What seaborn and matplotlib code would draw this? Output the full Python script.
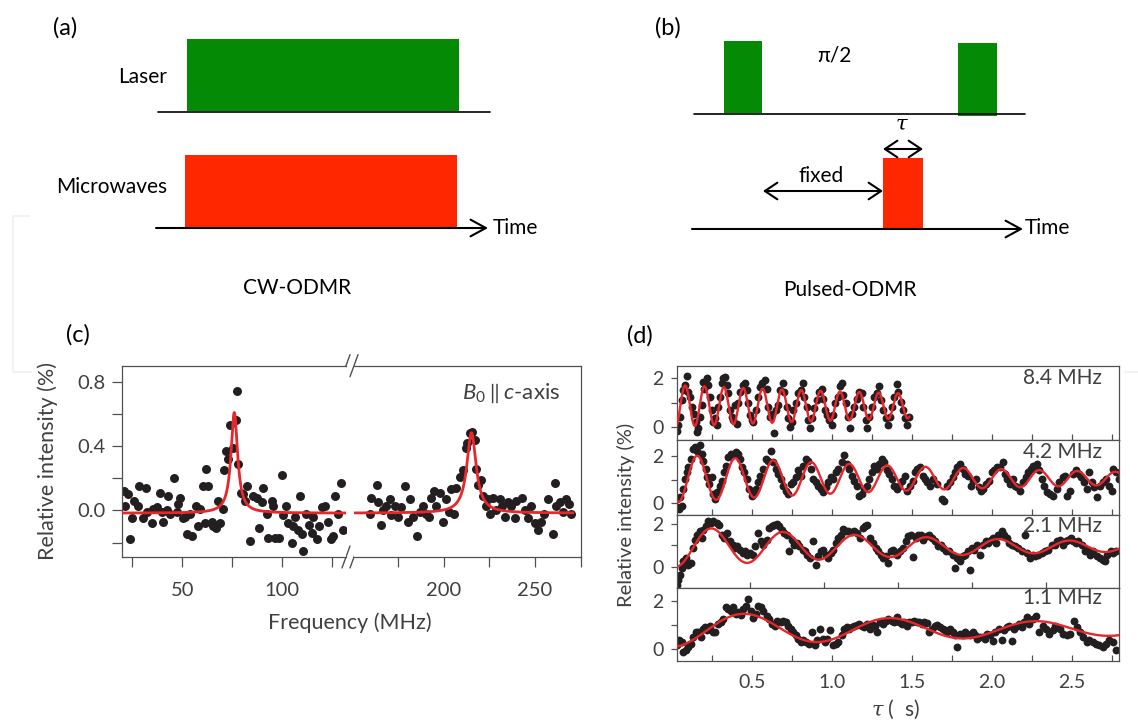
import numpy as np
import matplotlib
matplotlib.use("Agg")
import matplotlib.pyplot as plt
import seaborn as sns
from matplotlib.patches import Rectangle
from matplotlib.ticker import FixedLocator, FixedFormatter

# ------------------------------------------------------------------ data
# (c) CW-ODMR spectrum, B0 || c-axis : (frequency MHz, relative intensity %)
ODMR_LOW = [(20.8, 0.12), (21.3, 0.03), (23.0, 0.10), (23.8, -0.18), (24.7, -0.05), (25.8, 0.06),
            (28.0, 0.03), (28.5, 0.15), (30.5, -0.05), (31.8, 0.14), (32.2, -0.01), (34.7, -0.08),
            (35.5, 0.01), (37.2, 0.02), (38.8, 0.11), (39.7, -0.01), (40.5, -0.07), (42.2, 0.00),
            (43.0, 0.09), (43.8, -0.02), (46.0, 0.20), (47.2, -0.01), (48.0, 0.04), (48.8, 0.08),
            (50.2, -0.05), (51.3, -0.04), (52.2, -0.15), (53.8, -0.02), (54.7, -0.16), (56.8, 0.03),
            (58.0, -0.10), (58.8, 0.01), (60.2, 0.15), (61.3, -0.08), (61.8, 0.26), (63.0, 0.15),
            (64.7, -0.07), (65.5, -0.10), (66.8, -0.11), (68.0, 0.06), (68.8, -0.08), (70.2, 0.01),
            (71.0, 0.25), (71.8, 0.37), (73.0, 0.32), (73.8, 0.53), (75.5, 0.39), (76.8, 0.56),
            (77.2, 0.74), (78.0, 0.29), (79.2, 0.11), (80.5, 0.10), (81.3, 0.06), (82.2, 0.15),
            (83.8, -0.19), (85.2, 0.09), (87.2, 0.08), (88.5, -0.11), (89.7, 0.05), (90.2, 0.14),
            (92.2, -0.02), (93.0, -0.17), (94.7, 0.06), (95.2, 0.03), (96.3, -0.17), (98.5, -0.17),
            (99.7, 0.22), (100.5, -0.03), (101.8, 0.03), (103.0, -0.08), (104.7, -0.20), (105.2, -0.10),
            (106.3, -0.04), (108.0, -0.12), (108.8, 0.09), (109.7, -0.15), (110.5, -0.25), (111.8, -0.02),
            (113.5, -0.09), (114.7, -0.14), (115.5, -0.04), (117.2, -0.18), (118.5, -0.10), (119.7, 0.02),
            (121.3, 0.03), (123.0, -0.07), (124.2, -0.18), (125.2, -0.16), (126.3, 0.09), (128.0, -0.02),
            (129.2, 0.17), (130.5, -0.12)]
ODMR_HIGH = [(159.5, -0.02), (160.4, 0.08), (163.5, 0.16), (164.0, 0.05), (165.9, -0.09), (166.8, 0.00),
             (168.6, 0.03), (170.4, 0.07), (171.3, -0.03), (173.2, 0.03), (175.0, -0.04), (176.8, 0.02),
             (178.6, 0.15), (180.5, -0.07), (181.4, 0.07), (183.2, -0.04), (185.4, -0.16), (186.9, -0.01),
             (188.7, 0.03), (190.1, -0.02), (192.0, -0.04), (193.2, 0.08), (194.7, 0.12), (196.0, 0.03),
             (197.8, 0.11), (199.6, -0.07), (201.0, 0.07), (202.9, -0.01), (204.2, 0.13), (205.5, -0.02),
             (206.6, 0.14), (208.8, 0.21), (210.6, 0.25), (212.0, 0.39), (213.0, 0.42), (214.2, 0.48),
             (215.7, 0.49), (217.0, 0.44), (217.9, 0.26), (218.8, 0.16), (220.6, 0.19), (221.5, 0.09),
             (223.0, 0.03), (224.3, 0.07), (225.2, -0.02), (227.0, 0.08), (228.8, 0.00), (230.7, 0.07),
             (232.1, 0.03), (233.4, -0.04), (235.2, 0.05), (237.0, 0.03), (238.9, -0.05), (239.8, 0.06),
             (243.0, 0.08), (244.3, 0.00), (246.2, -0.05), (248.0, 0.03), (249.8, -0.08), (251.6, -0.12),
             (253.5, -0.07), (254.7, -0.02), (257.1, 0.07), (259.9, -0.15), (260.8, 0.17), (261.7, 0.03),
             (263.5, 0.05), (265.4, -0.01), (267.2, 0.07), (268.6, 0.04), (269.9, -0.02)]
# Lorentzian fit parameters
LORENTZ_CENTER = [76.0, 215.2]
LORENTZ_HWHM = [2.0, 3.1]
LORENTZ_AMP = [0.626, 0.50]
LORENTZ_OFFSET = -0.017
LORENTZ_RANGE = [(20.0, 132.2), (151.3, 270.8)]

# (d) Rabi oscillations : (tau us, relative intensity %)
RABI_84 = [(0.035, -0.14), (0.042, 0.10), (0.052, 0.44), (0.063, 1.12), (0.073, 1.52), (0.083, 1.73),
           (0.098, 2.10), (0.104, 1.46), (0.115, 1.25), (0.125, 0.84), (0.140, 0.57), (0.152, 0.23),
           (0.156, -0.18), (0.167, -0.04), (0.177, 0.44), (0.188, 0.91), (0.198, 1.86), (0.204, 1.59),
           (0.219, 2.00), (0.229, 1.73), (0.240, 1.25), (0.250, 0.71), (0.260, 0.23), (0.271, 0.37),
           (0.281, 0.10), (0.292, 0.84), (0.302, 1.25), (0.313, 1.80), (0.323, 2.00), (0.333, 2.07),
           (0.344, 1.73), (0.354, 1.39), (0.365, 0.71), (0.375, 0.44), (0.385, 0.30), (0.396, 0.91),
           (0.406, 0.16), (0.417, 0.98), (0.427, 1.46), (0.444, 1.73), (0.458, 1.80), (0.469, 1.52),
           (0.479, 0.98), (0.490, 0.50), (0.500, 0.30), (0.510, 0.23), (0.527, 0.71), (0.542, 1.25),
           (0.552, 1.66), (0.563, 1.80), (0.583, 1.93), (0.594, 1.59), (0.604, 0.84), (0.615, 0.44),
           (0.625, 0.57), (0.642, -0.22), (0.652, 0.71), (0.667, 0.91), (0.677, 1.52), (0.694, 1.80),
           (0.704, 1.46), (0.719, 0.84), (0.729, 0.37), (0.740, 0.03), (0.750, 0.23), (0.760, 0.71),
           (0.777, 0.98), (0.792, 1.39), (0.806, 1.52), (0.819, 1.82), (0.827, 1.25), (0.844, 0.84),
           (0.854, 0.30), (0.865, -0.04), (0.875, 0.37), (0.890, 0.78), (0.906, 1.12), (0.923, 1.46),
           (0.938, 1.59), (0.948, 1.18), (0.958, 0.71), (0.969, 0.50), (0.985, 0.30), (1.000, 0.10),
           (1.010, 0.50), (1.021, 0.98), (1.038, 1.25), (1.052, 1.69), (1.063, 1.80), (1.073, 1.32),
           (1.090, 0.98), (1.104, 0.44), (1.115, -0.04), (1.125, 0.57), (1.140, 0.84), (1.156, 1.18),
           (1.173, 1.46), (1.188, 1.39), (1.198, 0.84), (1.215, 0.30), (1.223, -0.04), (1.235, 0.44),
           (1.250, 0.84), (1.265, 1.25), (1.281, 1.39), (1.298, 1.69), (1.306, 1.12), (1.323, 0.71),
           (1.340, 0.37), (1.354, 0.10), (1.365, 0.44), (1.375, 0.84), (1.390, 1.25), (1.406, 1.77),
           (1.417, 1.46), (1.431, 1.05), (1.448, 0.71), (1.458, 0.37), (1.473, 0.10), (1.485, 0.44)]
RABI_42 = [(0.035, -0.19), (0.048, -0.26), (0.063, -0.11), (0.052, 0.24), (0.069, 0.60), (0.083, 1.03),
           (0.094, 1.31), (0.104, 1.53), (0.119, 1.89), (0.131, 2.29), (0.146, 2.39), (0.160, 2.24),
           (0.177, 2.46), (0.188, 2.10), (0.198, 1.81), (0.215, 1.46), (0.223, 1.10), (0.235, 0.81),
           (0.250, 1.10), (0.260, 0.39), (0.271, 0.17), (0.285, 0.46), (0.302, 0.74), (0.313, 0.96),
           (0.327, 1.31), (0.340, 1.60), (0.354, 1.96), (0.369, 2.10), (0.385, 2.03), (0.402, 2.17),
           (0.417, 2.10), (0.427, 1.89), (0.438, 1.53), (0.452, 1.31), (0.469, 1.03), (0.485, 0.60),
           (0.500, 0.31), (0.510, 0.39), (0.527, 0.60), (0.542, 0.89), (0.552, 1.17), (0.573, 1.46),
           (0.590, 1.89), (0.604, 1.81), (0.619, 2.24), (0.635, 1.74), (0.652, 1.46), (0.667, 1.24),
           (0.683, 1.03), (0.698, 0.74), (0.715, 0.53), (0.729, 0.39), (0.744, 0.81), (0.760, 0.89),
           (0.777, 1.10), (0.792, 1.39), (0.806, 1.17), (0.823, 1.60), (0.840, 1.89), (0.854, 1.81),
           (0.869, 1.46), (0.885, 1.03), (0.902, 0.89), (0.917, 0.74), (0.931, 0.60), (0.948, 0.46),
           (0.965, 0.67), (0.979, 0.89), (0.994, 1.10), (1.010, 1.03), (1.027, 1.31), (1.042, 1.46),
           (1.063, 1.74), (1.077, 2.03), (1.094, 1.67), (1.110, 1.46), (1.125, 1.17), (1.140, 0.96),
           (1.156, 0.74), (1.173, 0.31), (1.188, 0.39), (1.202, 0.60), (1.219, 0.74), (1.235, 1.03),
           (1.250, 1.31), (1.265, 1.60), (1.281, 1.46), (1.298, 1.67), (1.313, 1.89), (1.327, 1.74),
           (1.344, 1.39), (1.360, 1.24), (1.375, 1.03), (1.390, 0.74), (1.406, 0.60), (1.423, 0.74),
           (1.438, 0.96), (1.458, 1.17), (1.473, 0.53), (1.490, 0.74), (1.506, 0.96), (1.521, 1.31),
           (1.535, 1.46), (1.552, 1.53), (1.569, 1.17), (1.583, 1.03), (1.598, 0.89), (1.615, 0.74),
           (1.635, 1.03), (1.656, 0.81), (1.688, 0.17), (1.702, 0.10), (1.719, 0.74), (1.740, 0.89),
           (1.756, 1.10), (1.771, 1.31), (1.785, 1.53), (1.802, 1.67), (1.819, 1.46), (1.833, 1.24),
           (1.854, 1.17), (1.869, 0.74), (1.885, 0.96), (1.902, 1.03), (1.917, 0.67), (1.931, 0.53),
           (1.948, 0.60), (1.965, 0.81), (1.985, 0.96), (2.000, 1.31), (2.015, 1.39), (2.031, 1.53),
           (2.052, 1.53), (2.069, 1.74), (2.083, 1.24), (2.098, 1.03), (2.115, 0.81), (2.131, 1.03),
           (2.146, 0.74), (2.160, 0.67), (2.177, 0.53), (2.198, 0.89), (2.215, 1.10), (2.229, 1.31),
           (2.244, 1.46), (2.260, 1.60), (2.281, 1.67), (2.298, 1.39), (2.313, 1.03), (2.327, 0.74),
           (2.344, 0.46), (2.365, 0.39), (2.385, 0.31), (2.406, 0.60), (2.423, 0.89), (2.444, 1.10),
           (2.458, 1.17), (2.473, 0.31), (2.490, 0.53), (2.510, 1.24), (2.527, 1.39), (2.542, 1.24),
           (2.556, 1.10), (2.577, 0.89), (2.594, 0.60), (2.610, 1.31), (2.625, 0.89), (2.640, 0.67),
           (2.656, 0.24), (2.677, 0.74), (2.698, 0.89), (2.715, 1.03), (2.735, 0.74), (2.750, 0.53),
           (2.760, 1.46), (2.777, 1.31), (2.792, 1.03)]
RABI_21 = [(0.008, -0.82), (0.015, -0.58), (0.026, -0.35), (0.038, -0.05), (0.049, 0.26), (0.067, 0.42),
           (0.083, 0.11), (0.099, 0.18), (0.112, 0.88), (0.128, 1.26), (0.144, 1.49), (0.162, 1.65),
           (0.173, 1.34), (0.184, 1.72), (0.202, 1.88), (0.218, 2.11), (0.234, 2.03), (0.252, 2.11),
           (0.275, 2.03), (0.293, 1.95), (0.308, 1.49), (0.324, 1.34), (0.342, 1.57), (0.365, 1.18),
           (0.383, 1.03), (0.399, 0.88), (0.414, 0.95), (0.432, 0.80), (0.450, 0.65), (0.466, 0.72),
           (0.482, 0.57), (0.500, 0.65), (0.518, 0.57), (0.534, 0.95), (0.556, 1.57), (0.572, 1.18),
           (0.590, 1.03), (0.613, 1.26), (0.631, 1.80), (0.647, 1.88), (0.662, 1.95), (0.680, 1.98),
           (0.698, 1.88), (0.714, 1.72), (0.730, 1.57), (0.748, 1.49), (0.766, 0.72), (0.782, 1.26),
           (0.797, 1.03), (0.816, 1.11), (0.834, 0.95), (0.856, 0.80), (0.872, 0.72), (0.888, 0.57),
           (0.906, 0.42), (0.928, 1.18), (0.946, 0.11), (0.962, 0.49), (0.978, 0.72), (0.996, 0.80),
           (1.014, 0.57), (1.030, 0.42), (1.046, 0.65), (1.064, 0.80), (1.082, 1.11), (1.097, 1.34),
           (1.113, 1.49), (1.131, 1.77), (1.149, 1.68), (1.165, 1.65), (1.188, 1.62), (1.203, 1.65),
           (1.221, 1.57), (1.244, 1.34), (1.262, 1.80), (1.278, 1.88), (1.294, 1.95), (1.312, 1.34),
           (1.334, 1.11), (1.352, 0.88), (1.368, 0.72), (1.384, 0.57), (1.402, 0.42), (1.420, 0.49),
           (1.436, 0.18), (1.451, 0.72), (1.469, 0.80), (1.492, 0.57), (1.515, 0.72), (1.537, 0.88),
           (1.555, 1.18), (1.571, 1.42), (1.587, 1.46), (1.605, 0.45), (1.623, 1.34), (1.639, 1.49),
           (1.654, 1.49), (1.673, 1.26), (1.695, 1.42), (1.713, 1.49), (1.729, 1.34), (1.751, 1.18),
           (1.774, 0.95), (1.790, 1.03), (1.808, 0.88), (1.826, 0.72), (1.848, 0.72), (1.871, 0.57),
           (1.887, -0.05), (1.903, 0.42), (1.921, 0.26), (1.939, 0.49), (1.954, 0.57), (1.972, 0.72),
           (1.988, -0.12), (1.999, 0.88), (2.015, 0.80), (2.033, 1.03), (2.056, 0.57), (2.078, 1.03),
           (2.096, 1.18), (2.112, 1.11), (2.128, 1.26), (2.146, 1.34), (2.164, 1.11), (2.180, 1.49),
           (2.202, 1.65), (2.218, 1.49), (2.236, 1.34), (2.254, 1.11), (2.270, 1.03), (2.292, 0.95),
           (2.315, 0.88), (2.338, 0.72), (2.360, 1.49), (2.376, 0.65), (2.394, 0.42), (2.412, 0.57),
           (2.428, 0.49), (2.450, 0.57), (2.473, 0.65), (2.495, 0.72), (2.518, 0.80), (2.540, 1.03),
           (2.563, 1.03), (2.579, 1.18), (2.597, 1.26), (2.619, 1.03), (2.637, 1.18), (2.653, 1.26),
           (2.669, 1.34), (2.687, 1.18), (2.705, 1.11), (2.721, 1.18), (2.743, 1.03), (2.766, 0.72),
           (2.782, 0.80), (2.800, 0.57), (2.822, 0.72), (2.845, 0.49), (2.868, 0.42), (2.886, 0.34),
           (2.901, 0.26), (2.917, 0.57), (2.940, 0.72), (2.958, 0.65), (2.976, 0.72)]
RABI_11 = [(0.035, 0.16), (0.048, 0.37), (0.063, 0.30), (0.073, -0.11), (0.090, -0.04), (0.104, 0.10),
           (0.119, 0.23), (0.135, 0.50), (0.152, 0.73), (0.167, 0.71), (0.181, 0.50), (0.194, 0.84),
           (0.208, 0.91), (0.223, 0.78), (0.240, 0.98), (0.256, 0.73), (0.271, 0.71), (0.292, 1.05),
           (0.306, 1.12), (0.323, 1.25), (0.340, 1.73), (0.354, 1.66), (0.369, 1.59), (0.385, 1.73),
           (0.402, 1.46), (0.417, 1.52), (0.431, 1.41), (0.448, 1.66), (0.465, 1.80), (0.479, 2.07),
           (0.494, 1.59), (0.510, 1.28), (0.527, 1.46), (0.542, 1.80), (0.556, 1.73), (0.573, 1.59),
           (0.594, 1.39), (0.610, 1.25), (0.625, 1.05), (0.646, 0.98), (0.660, 1.18), (0.681, 1.12),
           (0.698, 1.18), (0.715, 1.14), (0.729, 0.98), (0.744, 0.84), (0.760, 0.71), (0.777, 0.57),
           (0.792, 0.44), (0.806, 0.30), (0.823, 0.37), (0.840, 0.30), (0.860, 0.23), (0.875, 0.71),
           (0.896, 0.19), (0.910, 0.37), (0.927, 0.84), (0.944, 0.44), (0.958, 0.30), (0.973, 0.44),
           (0.990, 0.78), (1.010, 0.16), (1.027, 0.23), (1.042, 0.30), (1.063, 0.57), (1.077, 0.84),
           (1.094, 0.91), (1.110, 0.84), (1.125, 0.91), (1.140, 0.98), (1.156, 1.01), (1.173, 1.05),
           (1.188, 0.98), (1.202, 0.91), (1.223, 1.05), (1.240, 0.84), (1.256, 1.01), (1.271, 0.98),
           (1.285, 0.73), (1.302, 1.12), (1.323, 1.05), (1.340, 1.18), (1.354, 1.25), (1.375, 1.18),
           (1.390, 1.12), (1.406, 1.32), (1.423, 1.14), (1.438, 1.05), (1.452, 1.12), (1.469, 0.98),
           (1.485, 1.14), (1.500, 1.12), (1.515, 1.18), (1.531, 1.12), (1.548, 1.12), (1.563, 1.05),
           (1.577, 1.12), (1.594, 1.09), (1.610, 0.71), (1.625, 0.84), (1.646, 0.98), (1.660, 1.01),
           (1.677, 0.91), (1.694, 0.84), (1.708, 0.78), (1.723, 0.71), (1.740, 0.84), (1.756, 0.71),
           (1.771, 0.57), (1.785, 0.10), (1.802, 0.64), (1.819, 0.57), (1.833, 0.71), (1.848, 0.64),
           (1.865, 0.57), (1.881, 0.71), (1.896, 0.57), (1.910, 0.44), (1.927, 0.50), (1.944, 0.50),
           (1.958, 0.44), (1.973, 0.64), (1.990, 0.57), (2.006, 0.33), (2.021, 0.71), (2.042, 0.84),
           (2.063, 0.37), (2.077, 0.78), (2.094, 0.91), (2.110, 0.98), (2.125, 0.33), (2.140, 0.84),
           (2.156, 0.98), (2.173, 1.05), (2.188, 0.91), (2.202, 1.12), (2.219, 1.32), (2.235, 1.05),
           (2.256, 1.25), (2.277, 1.39), (2.298, 0.71), (2.319, 0.98), (2.340, 0.84), (2.360, 0.64),
           (2.381, 0.78), (2.396, 0.98), (2.410, 0.91), (2.427, 0.84), (2.448, 0.64), (2.469, 0.57),
           (2.490, 0.64), (2.515, 1.18), (2.531, 0.91), (2.552, 0.71), (2.573, 0.50), (2.594, 0.30),
           (2.610, 0.37), (2.631, 0.30), (2.652, 0.23), (2.673, 0.16), (2.694, 0.10), (2.715, 0.23),
           (2.735, 0.37), (2.756, 0.30), (2.777, -0.04)]
RABI_SERIES = [RABI_84, RABI_42, RABI_21, RABI_11]
RABI_LABELS = ["8.4 MHz", "4.2 MHz", "2.1 MHz", "1.1 MHz"]
# damped-cosine fit parameters: c - a*exp(-t/T)*cos(2 pi f (t - t0))
RABI_FIT_FREQ = [8.27, 4.21, 2.063, 1.097]
RABI_FIT_C = [0.88, 1.05, 0.94, 0.833]
RABI_FIT_A = [0.86, 1.04, 0.936, 0.738]
RABI_FIT_T = [2.8, 2.14, 2.2, 2.8]
RABI_FIT_T0 = [0.0235, 0.041, -0.002, 0.003]
RABI_FIT_RANGE = [(0.031, 1.485), (0.031, 2.795), (0.004, 2.996), (0.031, 2.795)]
RABI_XLIM = [(0.031, 2.795), (0.031, 2.795), (0.004, 2.996), (0.031, 2.795)]
RABI_YLIM = [(-0.49, 2.52), (-0.49, 2.71), (-0.97, 2.42), (-0.49, 2.52)]

# (a)/(b) pulse-sequence schematics (drawing units)
CW_PULSES = {"Laser": (187, 459), "Microwaves": (185, 457)}
PULSED_LASER = [(724, 762), (958, 997)]
PULSED_MW = (883, 923)

# ------------------------------------------------------------------ style
sns.set_style("ticks")
plt.rcParams["font.family"] = ["Lato", "DejaVu Sans"]
plt.rcParams["mathtext.fontset"] = "custom"
plt.rcParams["mathtext.rm"] = "Lato"
plt.rcParams["mathtext.it"] = "Lato:italic"

GREEN = "#058a05"
RED_BAR = "#fe2700"
FIT_RED = "#e8262b"
DOT = "#231f20"
AX_COL = "#505050"
TXT = "#404040"

W, H = 1138, 722
fig = plt.figure(figsize=(W / 100, H / 100), dpi=100)


def rect(l, t, r, b):
    return [l / W, 1 - b / H, (r - l) / W, (b - t) / H]


# ------------------------------------------------------------------ schematics
axd = fig.add_axes([0, 0, 1, 1])
axd.set_xlim(0, W)
axd.set_ylim(H, 0)
axd.axis("off")
axd.patch.set_visible(False)

dfont = dict(fontsize=15, color="black")
arrow_one = dict(arrowstyle="->,head_length=0.55,head_width=0.3", lw=1.5, color="black",
                 shrinkA=0, shrinkB=0, mutation_scale=20)
arrow_two = dict(arrowstyle="<->,head_length=0.45,head_width=0.3", lw=1.5, color="black",
                 shrinkA=0, shrinkB=0, mutation_scale=20)
# (a)
axd.add_patch(Rectangle((CW_PULSES["Laser"][0], 39), CW_PULSES["Laser"][1] - CW_PULSES["Laser"][0], 72,
                        color=GREEN, lw=0))
axd.add_patch(Rectangle((CW_PULSES["Microwaves"][0], 155), CW_PULSES["Microwaves"][1] - CW_PULSES["Microwaves"][0],
                        73, color=RED_BAR, lw=0))
axd.plot([158, 490], [111.5, 111.5], color="black", lw=1.2)
axd.annotate("", xy=(488, 228), xytext=(156, 228), arrowprops=arrow_one)
axd.text(167, 77, "Laser", ha="right", va="center", **dfont)
axd.text(167, 187, "Microwaves", ha="right", va="center", **dfont)
axd.text(493, 228, "Time", ha="left", va="center", **dfont)
axd.text(297, 288, "CW-ODMR", ha="center", va="center", **dfont)

# (b)
axd.add_patch(Rectangle((PULSED_LASER[0][0], 41), PULSED_LASER[0][1] - PULSED_LASER[0][0], 72, color=GREEN, lw=0))
axd.add_patch(Rectangle((PULSED_LASER[1][0], 43), PULSED_LASER[1][1] - PULSED_LASER[1][0], 73, color=GREEN, lw=0))
axd.add_patch(Rectangle((PULSED_MW[0], 158), PULSED_MW[1] - PULSED_MW[0], 72, color=RED_BAR, lw=0))
axd.plot([694, 1025], [113.5, 113.5], color="black", lw=1.2)
axd.annotate("", xy=(1023, 229), xytext=(692, 229), arrowprops=arrow_one)
axd.annotate("", xy=(PULSED_MW[1], 149), xytext=(PULSED_MW[0], 149), arrowprops=arrow_two)
axd.annotate("", xy=(PULSED_MW[0], 191), xytext=(763, 191), arrowprops=arrow_two)
axd.text(834, 55, "π/2", ha="center", va="center", **dfont)
axd.text(902, 124, r"$\tau$", ha="center", va="center", math_fontfamily="dejavuserif", **dfont)
axd.text(821, 176, "fixed", ha="center", va="center", **dfont)
axd.text(1025, 228, "Time", ha="left", va="center", **dfont)
axd.text(850, 290, "Pulsed-ODMR", ha="center", va="center", **dfont)

# panel letters
for lab, (px, py) in zip(["(a)", "(b)", "(c)", "(d)"], [(65, 28), (668, 28), (78, 335), (640, 336)]):
    axd.text(px, py, lab, ha="center", va="center", fontsize=17, color="black")

# faint scan artefacts (light-grey frame remnants)
axd.plot([29, 13, 13, 31], [216, 216, 372, 372], color="#f2f2f2", lw=1.5)
axd.plot([1125, 1138], [372, 372], color="#f2f2f2", lw=1.5)

# ------------------------------------------------------------------ (c) broken-axis spectrum
axL = fig.add_axes(rect(122.3, 365.7, 346, 557))
axR = fig.add_axes(rect(354, 365.7, 580.7, 557))
lowF, lowI = np.array(ODMR_LOW).T
highF, highI = np.array(ODMR_HIGH).T
for ax, fx, fy, k, xl in [(axL, lowF, lowI, 0, (20, 131.85)), (axR, highF, highI, 1, (150.9, 275))]:
    sns.scatterplot(x=fx, y=fy, ax=ax, s=42, color=DOT, linewidth=0, legend=False, zorder=2)
    xs = np.linspace(LORENTZ_RANGE[k][0], LORENTZ_RANGE[k][1], 800)
    ys = LORENTZ_OFFSET + LORENTZ_AMP[k] * LORENTZ_HWHM[k] ** 2 / ((xs - LORENTZ_CENTER[k]) ** 2 + LORENTZ_HWHM[k] ** 2)
    sns.lineplot(x=xs, y=ys, ax=ax, color=FIT_RED, lw=2.0, estimator=None, zorder=3)
    ax.set_xlim(*xl)
    ax.set_ylim(-0.29, 0.90)
    for sp in ax.spines.values():
        sp.set_color(AX_COL)
        sp.set_linewidth(0.9)
    ax.tick_params(which="both", direction="out", length=7, width=0.9, color=AX_COL,
                   labelsize=14.5, labelcolor=TXT)
    ax.tick_params(axis="x", which="both", pad=11, top=False)
    ax.set_xlabel("")
    ax.set_ylabel("")

axL.spines["right"].set_visible(False)
axR.spines["left"].set_visible(False)
axL.xaxis.set_major_locator(FixedLocator([50, 100]))
axL.xaxis.set_minor_locator(FixedLocator([25, 75, 125]))
axR.xaxis.set_major_locator(FixedLocator([200, 250]))
axR.xaxis.set_minor_locator(FixedLocator([175, 225, 275]))
axL.yaxis.set_major_locator(FixedLocator([0.0, 0.4, 0.8]))
axL.yaxis.set_major_formatter(FixedFormatter(["0.0", "0.4", "0.8"]))
axL.yaxis.set_minor_locator(FixedLocator([-0.2, 0.2, 0.6]))
axL.tick_params(axis="y", which="both", right=False, pad=5)
axR.tick_params(axis="y", which="both", left=False, right=False, labelleft=False)
axL.set_ylabel("Relative intensity (%)", fontsize=15.5, color=TXT, ha="center", va="center")
axL.yaxis.set_label_coords(-0.333, 0.5)
axL.set_xlabel("Frequency (MHz)", fontsize=15.5, color=TXT, ha="center", va="center")
axL.xaxis.set_label_coords(1.018, -0.345)
axR.text(0.91, 0.855, r"$B_0\parallel c$-axis", transform=axR.transAxes, ha="right", va="center",
         fontsize=16, color=TXT)

# break marks
for bx in (346, 354):
    for by in (365.7, 557):
        axd.plot([bx - 4, bx + 4], [by + 11, by - 11], color=AX_COL, lw=1.0, zorder=5)

# ------------------------------------------------------------------ (d) Rabi oscillations
row_edges = [365.7, 439.5, 514.5, 588, 661.3]
label_y = [0.833, 0.833, 0.84, 0.864]
axes_d = []
for i in range(4):
    ax = fig.add_axes(rect(676.7, row_edges[i], 1119, row_edges[i + 1]))
    axes_d.append(ax)
    t, y = np.array(RABI_SERIES[i]).T
    sns.scatterplot(x=t, y=y, ax=ax, s=32, color=DOT, linewidth=0, legend=False, zorder=2)
    tf = np.linspace(RABI_FIT_RANGE[i][0], RABI_FIT_RANGE[i][1], 1500)
    yf = RABI_FIT_C[i] - RABI_FIT_A[i] * np.exp(-tf / RABI_FIT_T[i]) * np.cos(
        2 * np.pi * RABI_FIT_FREQ[i] * (tf - RABI_FIT_T0[i]))
    sns.lineplot(x=tf, y=yf, ax=ax, color=FIT_RED, lw=1.7, estimator=None, zorder=3)
    ax.set_xlim(*RABI_XLIM[i])
    ax.set_ylim(*RABI_YLIM[i])
    for sp in ax.spines.values():
        sp.set_color(AX_COL)
        sp.set_linewidth(0.9)
    ax.yaxis.set_major_locator(FixedLocator([0, 2]))
    ax.yaxis.set_minor_locator(FixedLocator([1]))
    ax.tick_params(axis="y", which="both", direction="out", length=4.5, width=0.9, color=AX_COL,
                   left=True, right=False, labelsize=14, labelcolor=TXT, pad=5)
    ax.xaxis.set_major_locator(FixedLocator([0.5, 1.0, 1.5, 2.0, 2.5]))
    if i == 2:
        ax.xaxis.set_minor_locator(FixedLocator([]))
    else:
        ax.xaxis.set_minor_locator(FixedLocator([0.25, 0.75, 1.25, 1.75, 2.25, 2.75]))
    ax.tick_params(axis="x", which="both", direction="in", length=4, width=0.9, color=AX_COL,
                   top=False, bottom=True, labelsize=14, labelcolor=TXT, pad=9,
                   labelbottom=(i == 3))
    ax.set_xlabel("")
    ax.set_ylabel("")
    ax.text(0.962, label_y[i], RABI_LABELS[i], transform=ax.transAxes,
            ha="right", va="center", fontsize=15, color=TXT)

axes_d[1].set_ylabel("Relative intensity (%)", fontsize=14.5, color=TXT, ha="center", va="center")
axes_d[1].yaxis.set_label_coords(-0.1153, -0.007)
axes_d[3].set_xlabel(r"$\tau$ (  s)", fontsize=15, color=TXT, ha="center", va="center",
                     math_fontfamily="dejavuserif")
axes_d[3].xaxis.set_label_coords(0.4936, -0.66)

fig.savefig("out.png", dpi=100)
